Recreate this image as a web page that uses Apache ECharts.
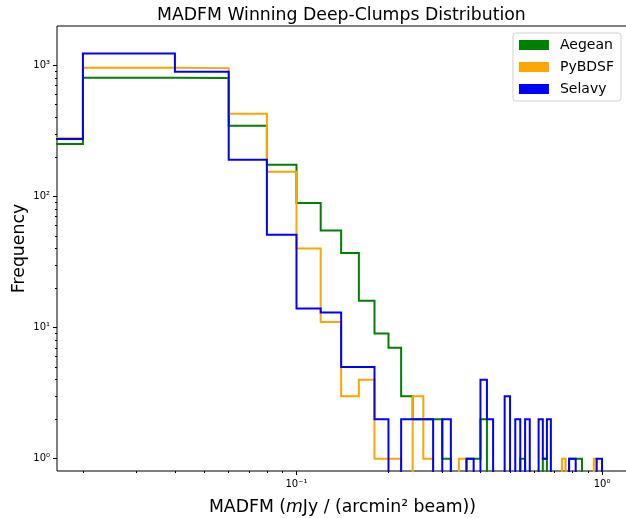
<!DOCTYPE html>
<html><head><meta charset="utf-8">
<script src="https://cdn.jsdelivr.net/npm/echarts@6/dist/echarts.min.js"></script>
<style>html,body{margin:0;padding:0;background:#fff}#c{width:626px;height:518px}</style>
</head><body><div id="c"></div>
<script>
// Histogram bin edges (MADFM, linear bins of 0.02 from 0 to 1)
const binEdges = [0, 0.02, 0.04, 0.06, 0.08, 0.10, 0.12, 0.14, 0.16, 0.18,
  0.20, 0.22, 0.24, 0.26, 0.28, 0.30, 0.32, 0.34, 0.36, 0.38,
  0.40, 0.42, 0.44, 0.46, 0.48, 0.50, 0.52, 0.54, 0.56, 0.58,
  0.60, 0.62, 0.64, 0.66, 0.68, 0.70, 0.72, 0.74, 0.76, 0.78,
  0.80, 0.82, 0.84, 0.86, 0.88, 0.90, 0.92, 0.94, 0.96, 0.98, 1.00];

const seriesNames = ['Aegean', 'PyBDSF', 'Selavy'];
const seriesColors = ['#008000', '#FFA500', '#0000FF'];

const aegean = [251, 802, 800, 345, 174, 89, 55, 37, 16, 9,
  7, 3, 2, 2, 2, 1, 0, 0, 1, 1,
  2, 0, 0, 0, 0, 0, 0, 1, 0, 0,
  0, 0, 1, 0, 0, 0, 0, 0, 0, 1,
  1, 1, 1, 0, 0, 0, 0, 0, 0, 0];

const pybdsf = [278, 955, 950, 427, 154, 40, 11, 3, 4, 1,
  1, 0, 3, 1, 0, 0, 0, 1, 0, 0,
  0, 0, 0, 0, 0, 0, 0, 0, 0, 0,
  0, 0, 0, 0, 0, 0, 0, 1, 0, 0,
  0, 0, 0, 0, 0, 0, 0, 1, 0, 0];

const selavy = [274, 1230, 891, 190, 51, 14, 13, 5, 5, 2,
  0, 2, 2, 2, 0, 2, 0, 0, 1, 0,
  4, 2, 0, 0, 3, 0, 2, 0, 2, 0,
  0, 2, 1, 2, 0, 0, 0, 0, 0, 1,
  1, 0, 0, 0, 0, 0, 0, 0, 1, 1];

const xMajorTicks = [0.1, 1];
const xMinorTicks = [0.02, 0.03, 0.04, 0.05, 0.06, 0.07, 0.08, 0.09,
  0.2, 0.3, 0.4, 0.5, 0.6, 0.7, 0.8, 0.9];
const yMajorTicks = [1, 10, 100, 1000];
const yMinorTicks = [2, 3, 4, 5, 6, 7, 8, 9, 20, 30, 40, 50, 60, 70, 80, 90,
  200, 300, 400, 500, 600, 700, 800, 900];

const xMin = 0.01645, xMax = 1.216;
const yMin = 0.806, yMax = 1990;

// values that cannot sit on a log axis are pushed below the visible range (clipped)
const OFF_LEFT = 0.001, OFF_BOTTOM = 0.1;
const px = v => v > 0 ? v : OFF_LEFT;
const py = v => v > 0 ? v : OFF_BOTTOM;

function stepPoints(counts) {
  const pts = [[px(binEdges[0]), OFF_BOTTOM]];
  for (let i = 0; i < counts.length; i++) {
    pts.push([px(binEdges[i]), py(counts[i])]);
    pts.push([px(binEdges[i + 1]), py(counts[i])]);
  }
  pts.push([px(binEdges[counts.length]), OFF_BOTTOM]);
  return pts;
}

const SUP = {'-': '\u207B', '0': '\u2070', '1': '\u00B9', '2': '\u00B2', '3': '\u00B3',
  '4': '\u2074', '5': '\u2075', '6': '\u2076', '7': '\u2077', '8': '\u2078', '9': '\u2079'};
const powLabel = v => '10' + String(Math.round(Math.log10(v))).split('').map(c => SUP[c]).join('');

const FONT = 'DejaVu Sans';
const gridRect = {left: 57, right: -2, top: 26, bottom: 47, containLabel: false, outerBoundsMode: 'none'};

const chart = echarts.init(document.getElementById('c'), null, {renderer: 'canvas'});
const allData = [aegean, pybdsf, selavy];

const nameStyle = {fontFamily: FONT, fontSize: 17.3, color: '#000'};

chart.setOption({
  animation: false,
  backgroundColor: '#fff',
  textStyle: {fontFamily: FONT},
  title: {
    text: 'MADFM Winning Deep-Clumps Distribution',
    left: 157, top: 7, padding: 0,
    textStyle: {fontFamily: FONT, fontSize: 17.3, fontWeight: 'normal', color: '#000'}
  },
  legend: {
    data: seriesNames,
    orient: 'vertical',
    right: 5, top: 33,
    padding: [4, 7, 4, 6],
    itemGap: 6,
    itemWidth: 30, itemHeight: 10,
    icon: 'rect',
    borderColor: '#d0d0d0', borderWidth: 1, borderRadius: 3,
    backgroundColor: '#fff',
    textStyle: {fontFamily: FONT, fontSize: 14, color: '#000', lineHeight: 16, padding: [0, 0, 0, 6]}
  },
  grid: [
    Object.assign({show: true, borderColor: '#000', borderWidth: 1, backgroundColor: 'transparent'}, gridRect),
    Object.assign({show: false}, gridRect)
  ],
  xAxis: [
    {
      type: 'log', logBase: 10, gridIndex: 0, min: xMin, max: xMax,
      name: '{a|MADFM (}{i|m}{a|Jy / (arcmin\u00B2 beam))}',
      nameLocation: 'middle', nameGap: 28, nameMoveOverlap: false,
      nameTextStyle: Object.assign({
        rich: {
          a: nameStyle,
          i: Object.assign({fontStyle: 'italic'}, nameStyle)
        }
      }, nameStyle),
      axisLine: {show: false},
      axisTick: {show: true, customValues: xMajorTicks, length: 4, lineStyle: {color: '#000'}},
      axisLabel: {show: true, customValues: xMajorTicks, formatter: powLabel, margin: 8,
        fontFamily: FONT, fontSize: 10, color: '#000'},
      splitLine: {show: false}, minorTick: {show: false}
    },
    {
      type: 'log', logBase: 10, gridIndex: 1, min: xMin, max: xMax,
      axisLine: {show: false},
      axisTick: {show: true, customValues: xMinorTicks, length: 2, lineStyle: {color: '#000'}},
      axisLabel: {show: false},
      splitLine: {show: false}
    }
  ],
  yAxis: [
    {
      type: 'log', logBase: 10, gridIndex: 0, min: yMin, max: yMax,
      name: 'Frequency', nameLocation: 'middle', nameGap: 29, nameMoveOverlap: false,
      nameTextStyle: nameStyle,
      axisLine: {show: false},
      axisTick: {show: true, customValues: yMajorTicks, length: 4, lineStyle: {color: '#000'}},
      axisLabel: {show: true, customValues: yMajorTicks, formatter: powLabel, margin: 7,
        fontFamily: FONT, fontSize: 10, color: '#000'},
      splitLine: {show: false}
    },
    {
      type: 'log', logBase: 10, gridIndex: 1, min: yMin, max: yMax,
      axisLine: {show: false},
      axisTick: {show: true, customValues: yMinorTicks, length: 2, lineStyle: {color: '#000'}},
      axisLabel: {show: false},
      splitLine: {show: false}
    }
  ],
  series: seriesNames.map((name, k) => ({
    name: name,
    type: 'line',
    xAxisIndex: 0, yAxisIndex: 0,
    data: stepPoints(allData[k]),
    showSymbol: false, symbol: 'none',
    clip: true,
    lineStyle: {color: seriesColors[k], width: 2, join: 'miter'},
    itemStyle: {color: seriesColors[k]},
    emphasis: {disabled: true}
  }))
});
</script></body></html>
